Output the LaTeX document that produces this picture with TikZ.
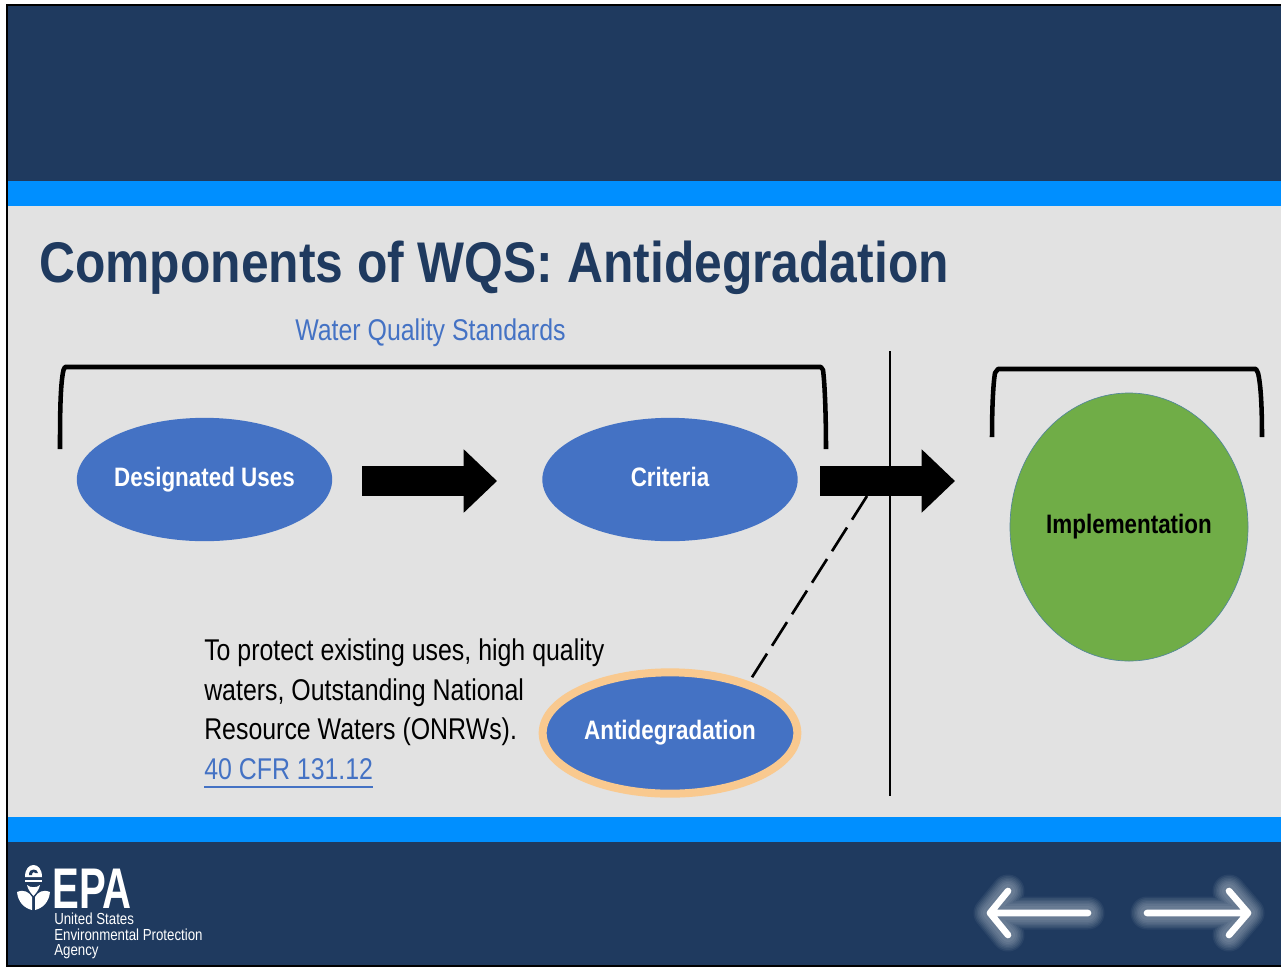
\documentclass[tikz,border=0pt]{standalone}
\usepackage{fontspec}
\setmainfont{Liberation Sans}
\newfontfamily\titlefont[FakeStretch=0.868]{Liberation Sans}
\newfontfamily\narrowfont[FakeStretch=0.83]{Liberation Sans}
\newfontfamily\ovalfont[FakeStretch=0.84]{Liberation Sans}
\newfontfamily\epafont[FakeStretch=0.70]{Liberation Sans}
\usetikzlibrary{arrows.meta,shapes.geometric}
\definecolor{navy}{HTML}{1F3A5F}
\definecolor{band}{HTML}{008FFF}
\definecolor{panel}{HTML}{E2E2E2}
\definecolor{ovalblue}{HTML}{4472C4}
\definecolor{ovalgreen}{HTML}{70AD47}
\definecolor{halo}{HTML}{F9C98F}
\tikzset{
  px/.style={x=0.75pt,y=-0.75pt},
  oval/.style={ellipse,fill=ovalblue,inner sep=-30pt,text=white,text height=14pt,text depth=4pt,font=\ovalfont\bfseries\fontsize{20}{24}\selectfont},
  blockarrow/.style={line width=22.5pt,-{Triangle[length=25pt,width=46pt]},black},
  bracketline/.style={line width=3.4pt,black,line cap=butt,line join=round},
  bodytext/.style={inner sep=0pt,anchor=base west,text=black,font=\narrowfont\fontsize{22.5}{27}\selectfont},
  logotext/.style={inner sep=0pt,anchor=base west,text=white,text height=7pt,text depth=1pt,font=\narrowfont\fontsize{12}{14}\selectfont},
}
\newcommand{\glowarrow}[3]{%
  % #1 tail x, #2 tip x, #3 head back x
  \foreach \w/\o in {33/0.05,30/0.06,27/0.06,24/0.06,21/0.06,18/0.06,14/0.06}{
    \draw[white,opacity=\o,line width=\w*0.75pt,line cap=round,line join=round]
      (#1,913) -- (#2,913) (#3,891) -- (#2,913) -- (#3,935);
  }
  \draw[white,line width=5pt,line cap=round,line join=round]
      (#1,913) -- (#2,913) (#3,891) -- (#2,913) -- (#3,935);
}
\begin{document}
\begin{tikzpicture}[px]
\useasboundingbox (0,0) rectangle (1281,968);
\fill[white] (0,0) rectangle (1281,968);
\fill[navy] (7,5) rectangle (1281,966);
\fill[band] (7,181) rectangle (1281,206);
\fill[panel] (7,206) rectangle (1281,817);
\fill[band] (7,817) rectangle (1281,842);
\draw[black,line width=1.8pt] (1283,5) -- (7,5) -- (7,966) -- (1283,966);

\node[inner sep=0pt,anchor=base west,text=navy,font={\titlefont\bfseries\fontsize{43}{50}\selectfont}] (title) at (39,282) {Components of WQS: Antidegradation};
\node[inner sep=0pt,anchor=base west,text=ovalblue,font=\narrowfont\fontsize{22.5}{26}\selectfont] (wqs) at (295,340) {Water Quality Standards};

% brackets
\draw[bracketline] (60,449) .. controls (60,420) and (60,385) .. (63.5,370) -- (65,367) -- (821,367) -- (823,370) .. controls (825,385) and (826,420) .. (826,449);
\draw[bracketline] (992,437) .. controls (992,410) and (993,385) .. (995,373) -- (998,369) -- (1256,369) -- (1258,373) .. controls (1261,385) and (1262,410) .. (1262,437);

% divider
\coordinate (divtop) at (890,351);
\coordinate (divbot) at (890,796);

% ovals
\node[oval,minimum width=191.5pt,minimum height=92.5pt] (du) at (204.5,479.5) {Designated Uses};
\node[oval,minimum width=191.5pt,minimum height=92.5pt] (cr) at (670,479.5) {Criteria};
\node[ellipse,fill=ovalgreen,draw=ovalblue!65!ovalgreen,line width=0.5pt,inner sep=-30pt,minimum width=178.5pt,minimum height=201pt,text=black,text height=14pt,text depth=4pt,font=\ovalfont\bfseries\fontsize{20}{24}\selectfont] (impl) at (1129,527) {Implementation};
\node[oval,draw=halo,line width=6pt,minimum width=191pt,minimum height=91pt] (anti) at (670,733) {Antidegradation};

% connectors
\coordinate (a2s) at (820,481);
\coordinate (a2e) at (955,481);
\coordinate (dashend) at (867,496);
\draw[blockarrow,shorten <=22.5pt,shorten >=33.75pt] (du.east |- 0,481) -- (cr.west |- 0,481);
\draw[black,line width=2pt] (divtop) -- (divbot);
\draw[blockarrow] (a2s) -- (a2e);
\draw[black,line width=2pt,dash pattern=on 21pt off 7pt] (dashend) -- (anti.33.5);

% body text
\node[bodytext] (b1) at (204,660) {To protect existing uses, high quality};
\node[bodytext] (b2) at (204,700) {waters, Outstanding National};
\node[bodytext] (b3) at (204,739) {Resource Waters (ONRWs).};
\node[bodytext,text=ovalblue] (b4) at (204,779) {40 CFR 131.12};
\draw[ovalblue,line width=1pt] (b4.base west |- 0,787) -- (b4.base east |- 0,787);

% EPA logo
\fill[white] (25,877) .. controls (25,869) and (29,865) .. (33.5,865) .. controls (38,865) and (42,869) .. (42,877) -- cycle;
\fill[navy] (29,875) .. controls (29,871) and (31,869.5) .. (33.5,869.5) .. controls (36,869.5) and (38,871) .. (38,873) -- (35.5,873) .. controls (35,871.5) and (32,871.5) .. (32,875) -- cycle;
\fill[white] (25,880) -- (42,880) -- (42,881.5) -- (25,881.5) -- cycle;
\fill[white] (17,892) .. controls (24,889) and (29,892) .. (32,897) -- (32,910) .. controls (24,908) and (18,902) .. (17,892) -- cycle;
\fill[white] (50,892) .. controls (43,889) and (38,892) .. (35,897) -- (35,910) .. controls (43,908) and (49,902) .. (50,892) -- cycle;
\fill[white] (27,885) .. controls (30,888) and (37,888) .. (40,885) .. controls (39,890) and (36,893) .. (33.5,896) .. controls (31,893) and (28,890) .. (27,885) -- cycle;
\node[inner sep=0pt,anchor=base west,text=white,text height=22pt,text depth=0pt,font={\epafont\bfseries\fontsize{43}{48}\selectfont}] (epa) at (52,908) {EPA};
\node[logotext] (l1) at (54,924) {United States};
\node[logotext] (l2) at (54,940) {Environmental Protection};
\node[logotext] (l3) at (54,955) {Agency};

% nav arrows
\glowarrow{1088}{990}{1008}
\glowarrow{1147}{1248}{1229}
\end{tikzpicture}
\end{document}
